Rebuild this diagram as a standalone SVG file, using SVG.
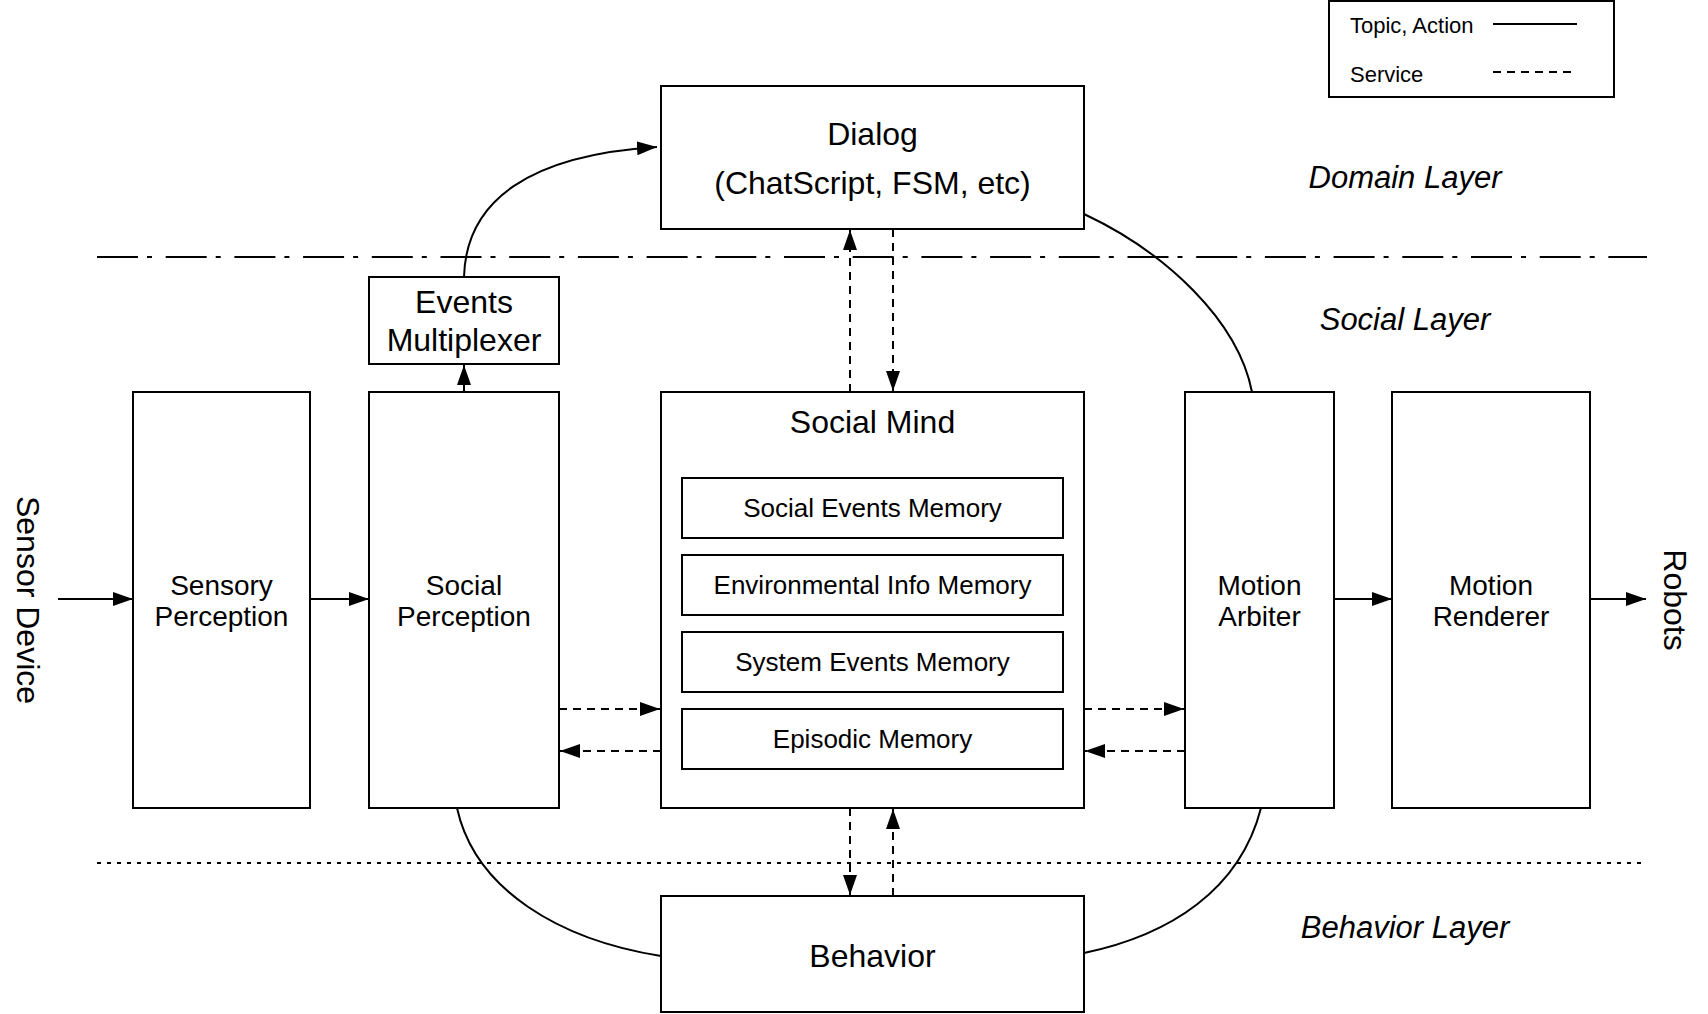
<svg xmlns="http://www.w3.org/2000/svg" width="1708" height="1014" viewBox="0 0 1708 1014">
<style>
text{font-family:"Liberation Sans",Arial,Helvetica,sans-serif;fill:#000}
.box{fill:#fff;stroke:#000;stroke-width:2}
.big{font-size:32px;text-anchor:middle}
.mid{font-size:28px;text-anchor:middle}
.inner{font-size:26px;text-anchor:middle}
.layer{font-size:31px;font-style:italic;text-anchor:middle}
.leg{font-size:22px}
.solid{fill:none;stroke:#000;stroke-width:2}
.dash{fill:none;stroke:#000;stroke-width:2;stroke-dasharray:8 6}
</style>
<defs>
<marker id="ah" viewBox="0 0 20 14" refX="20" refY="7" markerWidth="20" markerHeight="14" markerUnits="userSpaceOnUse" orient="auto"><path d="M0,0 L20,7 L0,14 Z" fill="#000"/></marker>
</defs>
<rect width="1708" height="1014" fill="#fff"/>

<g id="separators">
<line x1="97" y1="257" x2="1647" y2="257" stroke="#000" stroke-width="2" stroke-dasharray="41 9 5 13.7"/>
<line x1="97" y1="863" x2="1645" y2="863" stroke="#000" stroke-width="2" stroke-dasharray="4 6"/>
</g>

<g id="legend">
<rect class="box" x="1329" y="1" width="285" height="96"/>
<text class="leg" x="1350" y="33">Topic, Action</text>
<line class="solid" x1="1493" y1="24" x2="1577" y2="24"/>
<text class="leg" x="1350" y="82">Service</text>
<line class="dash" x1="1493" y1="72" x2="1577" y2="72"/>
</g>

<g id="layer-labels">
<text class="layer" x="1405" y="188">Domain Layer</text>
<text class="layer" x="1405" y="330">Social Layer</text>
<text class="layer" x="1405" y="938">Behavior Layer</text>
</g>

<g id="sensor-device"><text class="big" transform="translate(17,600) rotate(90)">Sensor Device</text></g>
<g id="robots"><text class="big" transform="translate(1664,600) rotate(90)">Robots</text></g>

<g id="connectors">
<path class="solid" d="M464,277 C466,200 530,155 657,147" marker-end="url(#ah)"/>
<path class="solid" d="M1084,214 C1165,252 1238,320 1252,392"/>
<path class="solid" d="M457,808 C475,890 560,940 661,956"/>
<path class="solid" d="M1084,953 C1170,935 1240,890 1261,808"/>
<line class="solid" x1="58" y1="599" x2="133" y2="599" marker-end="url(#ah)"/>
<line class="solid" x1="310" y1="599" x2="369" y2="599" marker-end="url(#ah)"/>
<line class="solid" x1="1334" y1="599" x2="1392" y2="599" marker-end="url(#ah)"/>
<line class="solid" x1="1590" y1="599" x2="1646" y2="599" marker-end="url(#ah)"/>
<line class="solid" x1="464" y1="392" x2="464" y2="365" marker-end="url(#ah)"/>
<line class="dash" x1="850" y1="392" x2="850" y2="230" marker-end="url(#ah)"/>
<line class="dash" x1="893" y1="229" x2="893" y2="391" marker-end="url(#ah)"/>
<line class="dash" x1="850" y1="808" x2="850" y2="895" marker-end="url(#ah)"/>
<line class="dash" x1="893" y1="896" x2="893" y2="809" marker-end="url(#ah)"/>
<line class="dash" x1="559" y1="709" x2="660" y2="709" marker-end="url(#ah)"/>
<line class="dash" x1="661" y1="751" x2="560" y2="751" marker-end="url(#ah)"/>
<line class="dash" x1="1084" y1="709" x2="1184" y2="709" marker-end="url(#ah)"/>
<line class="dash" x1="1185" y1="751" x2="1085" y2="751" marker-end="url(#ah)"/>
</g>

<g id="dialog">
<rect class="box" x="661" y="86" width="423" height="143"/>
<text class="big" x="872.5" y="145">Dialog</text>
<text class="big" x="872.5" y="194">(ChatScript, FSM, etc)</text>
</g>

<g id="events-multiplexer">
<rect class="box" x="369" y="277" width="190" height="87"/>
<text class="big" x="464" y="313">Events</text>
<text class="big" x="464" y="351">Multiplexer</text>
</g>

<g id="sensory-perception">
<rect class="box" x="133" y="392" width="177" height="416"/>
<text class="mid" x="221.5" y="595">Sensory</text>
<text class="mid" x="221.5" y="626">Perception</text>
</g>

<g id="social-perception">
<rect class="box" x="369" y="392" width="190" height="416"/>
<text class="mid" x="464" y="595">Social</text>
<text class="mid" x="464" y="626">Perception</text>
</g>

<g id="social-mind">
<rect class="box" x="661" y="392" width="423" height="416"/>
<text class="big" x="872.5" y="433">Social Mind</text>
<g id="social-events-memory"><rect class="box" x="682" y="478" width="381" height="60"/><text class="inner" x="872.5" y="517">Social Events Memory</text></g>
<g id="environmental-info-memory"><rect class="box" x="682" y="555" width="381" height="60"/><text class="inner" x="872.5" y="594">Environmental Info Memory</text></g>
<g id="system-events-memory"><rect class="box" x="682" y="632" width="381" height="60"/><text class="inner" x="872.5" y="671">System Events Memory</text></g>
<g id="episodic-memory"><rect class="box" x="682" y="709" width="381" height="60"/><text class="inner" x="872.5" y="748">Episodic Memory</text></g>
</g>

<g id="motion-arbiter">
<rect class="box" x="1185" y="392" width="149" height="416"/>
<text class="mid" x="1259.5" y="595">Motion</text>
<text class="mid" x="1259.5" y="626">Arbiter</text>
</g>

<g id="motion-renderer">
<rect class="box" x="1392" y="392" width="198" height="416"/>
<text class="mid" x="1491" y="595">Motion</text>
<text class="mid" x="1491" y="626">Renderer</text>
</g>

<g id="behavior">
<rect class="box" x="661" y="896" width="423" height="116"/>
<text class="big" x="872.5" y="967">Behavior</text>
</g>
</svg>
